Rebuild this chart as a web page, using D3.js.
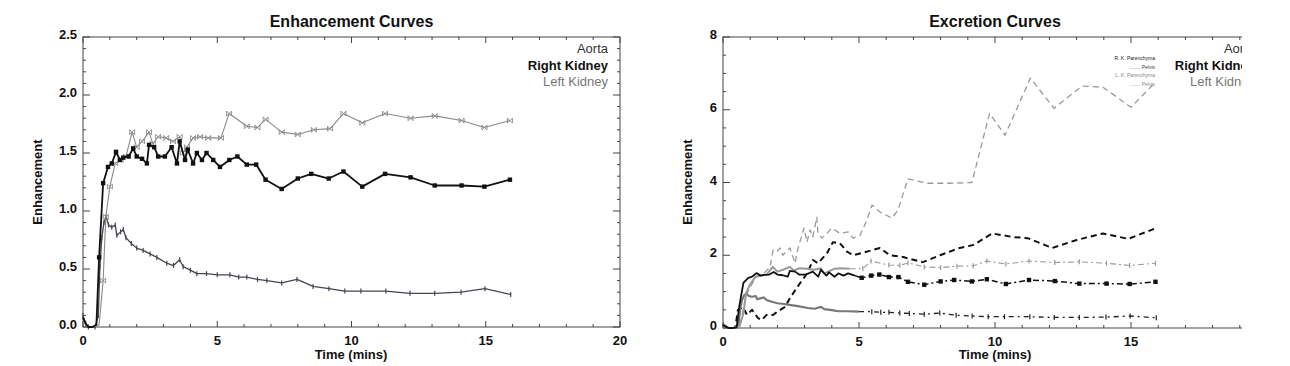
<!DOCTYPE html>
<html><head><meta charset="utf-8">
<script src="https://cdn.jsdelivr.net/npm/d3@7"></script>
<style>
html,body{margin:0;padding:0;background:#fff;}
svg{display:block;font-family:"Liberation Sans",Arial,sans-serif;}
</style></head>
<body><svg id="chart" width="1290" height="366"></svg>
<script>
// ---------- DATA ----------
const timeRK = [0,0.1,0.2,0.35,0.5,0.6,0.75,0.93,1.07,1.23,1.38,1.5,1.7,1.87,2.0,2.2,2.38,2.46,2.65,2.8,3.05,3.3,3.5,3.6,3.8,3.9,4.1,4.24,4.43,4.6,4.85,5.1,5.45,5.75,6.1,6.45,6.8,7.4,8.0,8.5,9.15,9.7,10.4,11.25,12.2,13.1,14.1,14.95,15.9];
const enhRK  = [0.08,0.03,0,0,0.02,0.6,1.24,1.38,1.41,1.51,1.44,1.46,1.47,1.54,1.47,1.45,1.41,1.57,1.55,1.47,1.47,1.55,1.41,1.60,1.44,1.53,1.41,1.50,1.44,1.50,1.44,1.38,1.44,1.47,1.40,1.40,1.27,1.19,1.28,1.32,1.28,1.34,1.21,1.32,1.29,1.22,1.22,1.21,1.27];

const timeLK = [0,0.1,0.2,0.4,0.6,0.75,0.85,1.0,1.2,1.4,1.6,1.83,2.0,2.2,2.46,2.6,2.8,3.1,3.35,3.6,3.72,3.87,4.1,4.36,4.66,5.14,5.44,6.1,6.5,6.8,7.4,8.0,8.6,9.2,9.7,10.4,11.25,12.2,13.1,14.1,14.95,15.9];
const enhLK  = [0.05,0.02,0,0,0.02,0.4,0.95,1.21,1.41,1.44,1.47,1.68,1.55,1.60,1.68,1.58,1.64,1.63,1.60,1.64,1.50,1.55,1.63,1.64,1.63,1.63,1.84,1.73,1.72,1.79,1.68,1.66,1.70,1.71,1.84,1.76,1.84,1.80,1.82,1.78,1.72,1.78];

const timeAorta = [0,0.1,0.2,0.45,0.57,0.63,0.7,0.78,0.86,0.95,1.07,1.2,1.26,1.4,1.5,1.6,1.8,2.0,2.24,2.5,2.75,3.12,3.37,3.6,3.73,4.0,4.24,4.6,5.0,5.47,5.8,6.1,6.5,6.85,7.4,7.97,8.57,9.16,9.75,10.35,11.28,12.18,13.1,14.08,14.97,15.93];
const enhAorta  = [0.1,0.03,0,0,0.1,0.52,0.77,0.9,0.95,0.88,0.86,0.88,0.79,0.82,0.84,0.77,0.72,0.68,0.66,0.63,0.60,0.55,0.53,0.58,0.52,0.49,0.46,0.46,0.45,0.45,0.43,0.43,0.41,0.40,0.38,0.41,0.35,0.33,0.31,0.31,0.31,0.29,0.29,0.30,0.33,0.28];

const timeRP = [0,0.2,0.45,0.55,0.73,0.88,1.07,1.29,1.43,1.6,1.84,2.0,2.28,2.46,2.83,3.09,3.31,3.49,3.82,4.04,4.3,4.56,4.78,5.15,5.77,6.14,6.62,7.35,7.98,8.7,9.2,9.9,10.66,11.2,12.1,13.0,13.97,14.9,15.9];
const enhRP  = [0.1,0,0,0.5,0.58,0.36,0.5,0.27,0.22,0.36,0.36,0.45,0.58,0.82,1.23,1.5,1.87,1.78,2.05,2.36,2.33,2.1,2.0,2.07,2.2,2.0,1.95,1.81,2.0,2.2,2.28,2.6,2.5,2.47,2.2,2.42,2.6,2.45,2.74];

const timeLP = [0,0.2,0.6,0.85,1.2,1.5,1.73,1.84,1.98,2.1,2.2,2.46,2.65,2.76,2.98,3.09,3.2,3.3,3.45,3.49,3.64,3.82,4.0,4.3,4.6,4.78,5.04,5.29,5.48,5.77,6.21,6.43,6.8,7.5,8.35,9.15,9.8,10.37,11.3,12.17,13.2,13.97,15.0,15.8];
const enhLP  = [0.05,0,0,0.9,1.4,1.5,1.68,2.14,2.1,2.2,2.0,2.2,1.78,2.2,2.75,2.36,2.7,2.5,3.05,2.6,2.47,2.6,2.75,2.6,2.64,2.47,2.55,2.97,3.38,3.19,3.02,3.24,4.1,3.98,3.98,4.0,5.9,5.3,6.87,6.04,6.65,6.62,6.07,6.68];

const leftYTicks = [0,0.5,1.0,1.5,2.0,2.5];
const rightYTicks = [0,2,4,6,8];
const xTicks = [0,5,10,15,20];
const legendNames = ["Aorta","Right Kidney","Left Kidney"];
const smallLegend = ["R. K. Parenchyma","........ Pelvis","L. K. Parenchyma","........ Pelvis"];

// ---------- DRAW ----------
const svg = d3.select("#chart");
const zip = (t,v) => t.map((d,i)=>[d,v[i]]);
const AX = "#444";

function panel(cfg){
  const g = cfg.g;
  const x = d3.scaleLinear().domain([0,20]).range([cfg.x0,cfg.x1]);
  const y = d3.scaleLinear().domain(cfg.ydom).range([cfg.y0,cfg.y1]);
  // frame
  g.append("rect").attr("x",cfg.x0).attr("y",cfg.y1).attr("width",cfg.x1-cfg.x0).attr("height",cfg.y0-cfg.y1)
    .attr("fill","none").attr("stroke",AX).attr("stroke-width",1);
  // x ticks
  const xMinor = d3.range(0,20.001,1);
  xMinor.forEach(t=>{
    const L = (t%5===0)?6:3;
    g.append("line").attr("x1",x(t)).attr("x2",x(t)).attr("y1",cfg.y0).attr("y2",cfg.y0-L).attr("stroke",AX);
    g.append("line").attr("x1",x(t)).attr("x2",x(t)).attr("y1",cfg.y1).attr("y2",cfg.y1+L).attr("stroke",AX);
  });
  const yMinor = d3.range(cfg.ydom[0],cfg.ydom[1]+1e-6,cfg.yminor);
  yMinor.forEach(v=>{
    const isMajor = Math.abs(v/cfg.ymajor - Math.round(v/cfg.ymajor))<1e-6;
    const L = isMajor?7:3;
    g.append("line").attr("x1",cfg.x0).attr("x2",cfg.x0+L).attr("y1",y(v)).attr("y2",y(v)).attr("stroke",AX);
    g.append("line").attr("x1",cfg.x1).attr("x2",cfg.x1-L).attr("y1",y(v)).attr("y2",y(v)).attr("stroke",AX);
  });
  // labels
  g.selectAll(null).data(xTicks).enter().append("text")
    .attr("x",d=>x(d)).attr("y",cfg.y0+18).attr("text-anchor","middle")
    .attr("font-size",13).attr("font-weight","bold").attr("fill","#111").text(d=>d);
  g.selectAll(null).data(cfg.yticks).enter().append("text")
    .attr("x",cfg.x0-6).attr("y",d=>y(d)+2).attr("text-anchor","end")
    .attr("font-size",13).attr("font-weight","bold").attr("fill","#111").text(cfg.yfmt);
  g.append("text").attr("x",(cfg.x0+cfg.x1)/2).attr("y",27).attr("text-anchor","middle")
    .attr("font-size",16).attr("font-weight","bold").attr("fill","#111").text(cfg.title);
  g.append("text").attr("x",cfg.x0+ (cfg.xlabX||0)).attr("y",359).attr("text-anchor","middle")
    .attr("font-size",13).attr("font-weight","bold").attr("fill","#111").text("Time (mins)");
  g.append("text").attr("transform",`translate(${cfg.ylabX},182) rotate(-90)`).attr("text-anchor","middle")
    .attr("font-size",13).attr("font-weight","bold").attr("fill","#111").text("Enhancement");
  // legend
  const lc = ["#333","#111","#777"], lw = ["normal","bold","normal"];
  legendNames.forEach((n,i)=>{
    g.append("text").attr("x",cfg.x1-12).attr("y",53+i*16.5).attr("text-anchor","end")
      .attr("font-size",13).attr("font-weight",lw[i]).attr("fill",lc[i]).text(n);
  });
  return {x,y};
}

function drawLine(g,sc,data,stroke,width,dash){
  const line = d3.line().x(d=>sc.x(d[0])).y(d=>sc.y(d[1]));
  g.append("path").datum(data).attr("d",line).attr("fill","none").attr("stroke",stroke)
    .attr("stroke-width",width).attr("stroke-dasharray",dash||null).attr("stroke-linejoin","round");
}
function markers(g,sc,data,type,color){
  const pts = data.filter(d=>d[1]>0.3 || type==="plus");
  pts.forEach(d=>{
    const cx=sc.x(d[0]), cy=sc.y(d[1]);
    if(type==="square"){
      g.append("rect").attr("x",cx-2.2).attr("y",cy-2.2).attr("width",4.4).attr("height",4.4).attr("fill",color);
    } else if(type==="x"){
      g.append("path").attr("d",`M${cx-2.5},${cy-2.5}L${cx+2.5},${cy+2.5}M${cx-2.5},${cy+2.5}L${cx+2.5},${cy-2.5}M${cx-2.5},${cy-2.5}V${cy+2.5}M${cx+2.5},${cy-2.5}V${cy+2.5}`)
        .attr("stroke",color).attr("stroke-width",0.9).attr("fill","none");
    } else {
      g.append("path").attr("d",`M${cx},${cy-2.5}V${cy+2.5}`).attr("stroke",color).attr("stroke-width",1.2);
    }
  });
}

const RK = zip(timeRK,enhRK), LK = zip(timeLK,enhLK), AO = zip(timeAorta,enhAorta);
const RP = zip(timeRP,enhRP), LP = zip(timeLP,enhLP);

// Left panel
const gL = svg.append("g");
const sL = panel({g:gL,x0:83,x1:620,y0:327,y1:37,ydom:[0,2.5],ymajor:0.5,yminor:0.1,
  yticks:leftYTicks,yfmt:d3.format(".1f"),title:"Enhancement Curves",ylabX:42,xlabX:268});
drawLine(gL,sL,AO,"#4b4350",1.3);
markers(gL,sL,AO,"plus","#4b4350");
drawLine(gL,sL,LK,"#8a8a8a",1.1);
markers(gL,sL,LK,"x","#8a8a8a");
drawLine(gL,sL,RK,"#111",1.8);
markers(gL,sL,RK,"square","#111");

// Right panel (clipped at right edge like the reference)
svg.append("defs").append("clipPath").attr("id","clipR").append("rect")
  .attr("x",640).attr("y",0).attr("width",602).attr("height",366);
const gR = svg.append("g").attr("clip-path","url(#clipR)");
const sR = panel({g:gR,x0:723,x1:1267,y0:328,y1:37,ydom:[0,8],ymajor:2,yminor:0.5,
  yticks:rightYTicks,yfmt:d3.format("d"),title:"Excretion Curves",ylabX:692,xlabX:272});
const split = 5;
const early = arr => arr.filter(d=>d[0]<=split);
const late = arr => { const i = arr.findIndex(d=>d[0]>split); return arr.slice(Math.max(0,i-1)); };
// pelvis curves
drawLine(gR,sR,LP,"#9a9a9a",1.3,"6,4");
drawLine(gR,sR,RP,"#111",2,"6,4");
// parenchyma + aorta
drawLine(gR,sR,early(AO),"#777",2.2);
drawLine(gR,sR,late(AO),"#222",1.3,"5,4,2,4");
markers(gR,sR,late(AO).slice(1),"plus","#222");
drawLine(gR,sR,early(LK),"#999",2);
drawLine(gR,sR,late(LK),"#999",1.1,"6,3,2,3");
markers(gR,sR,late(LK).slice(1),"plus","#999");
drawLine(gR,sR,early(RK),"#111",1.8);
drawLine(gR,sR,late(RK),"#111",1.5,"6,3,2,3");
markers(gR,sR,late(RK).slice(1),"square","#111");
// tiny legend
const sc = ["#222","#444","#888","#888"];
smallLegend.forEach((t,i)=>{
  gR.append("text").attr("x",1155).attr("y",60+i*8.5).attr("text-anchor","end")
    .attr("font-size",5).attr("fill",sc[i]).text(t);
});
</script></body></html>
